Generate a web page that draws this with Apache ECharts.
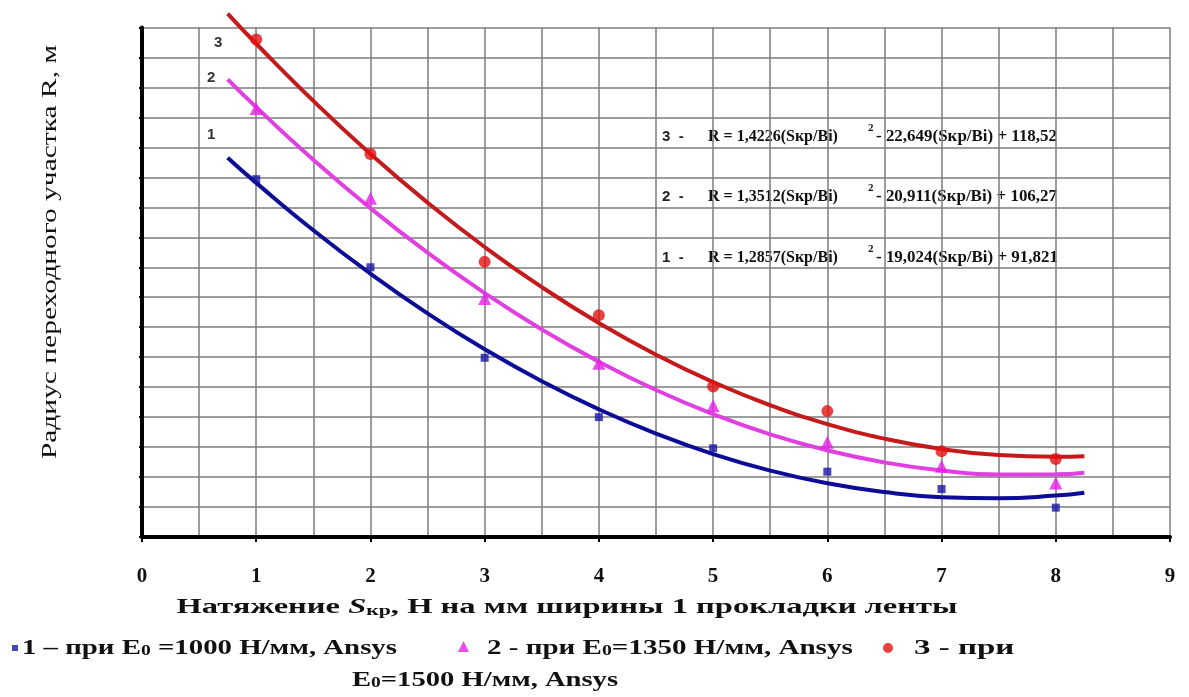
<!DOCTYPE html>
<html>
<head>
<meta charset="utf-8">
<script src="https://cdn.jsdelivr.net/npm/echarts@6/dist/echarts.min.js"></script>
<style>html,body{margin:0;padding:0;background:#fff;}#c{width:1189px;height:697px;}</style>
</head>
<body>
<div id="c"></div>
<script>
// Measured points (Ansys)
const pointX = [1, 2, 3, 4, 5, 6, 7, 8];
const ansys1 = [74.7, 60.0, 44.9, 35.0, 29.8, 25.9, 23.0, 19.9];
const ansys2 = [86.5, 71.5, 54.8, 44.0, 36.9, 30.8, 26.8, 24.0];
const ansys3 = [98.0, 78.9, 60.9, 52.0, 40.1, 36.0, 29.3, 28.0];
// Trend curves
const trendX = [0.75, 1, 1.5, 2, 2.5, 3, 3.5, 4, 4.5, 5, 5.5, 6, 6.5, 7, 7.5, 8, 8.25];
const trend1 = [78.28, 74.08, 66.18, 58.92, 52.30, 46.32, 40.99, 36.30, 32.25, 28.84, 26.08, 23.96, 22.49, 21.65, 21.46, 21.91, 22.38];
const trend2 = [91.35, 86.71, 77.94, 69.85, 62.44, 55.70, 49.63, 44.25, 39.53, 35.50, 32.13, 29.45, 27.44, 26.10, 25.44, 25.46, 25.72];
const trend3 = [102.33, 97.29, 87.75, 78.91, 70.79, 63.38, 56.68, 50.69, 45.41, 40.84, 36.98, 33.84, 31.41, 29.68, 28.67, 28.38, 28.49];
const xTickLabels = ['0','1','2','3','4','5','6','7','8','9'];
const seriesNames = ['1 – при E0 =1000 Н/мм, Ansys', '2 - при E0=1350 Н/мм, Ansys', '3 - при E0=1500 Н/мм, Ansys'];
const legendTexts = [
  ['1 – при E', ' =1000 Н/мм, Ansys'],
  ['2 - при E', '=1350 Н/мм, Ansys'],
  ['3 - при', ''],
  ['E', '=1500 Н/мм, Ansys']
];
const curveLabels = ['1', '2', '3'];
const equations = [
  ['3', 'R = 1,4226(Sкр/Bi)', '- 22,649(Sкр/Bi) + 118,52'],
  ['2', 'R = 1,3512(Sкр/Bi)', '- 20,911(Sкр/Bi) + 106,27'],
  ['1', 'R = 1,2857(Sкр/Bi)', '- 19,024(Sкр/Bi) + 91,821']
];
const yTitle = 'Радиус переходного участка R, м';
const xTitle = ['Натяжение ', 'S', 'кр', ', Н на мм ширины 1 прокладки ленты'];

const SERIF = '"Liberation Serif", "Times New Roman", serif';
const SANS = '"Liberation Sans", Arial, sans-serif';
const pair = (xs, ys) => xs.map((x, i) => [x, ys[i]]);

const chart = echarts.init(document.getElementById('c'));
const gridLine = { show: true, lineStyle: { color: '#7c7c7c', width: 1.5 } };

function mkLegend(idx, left, top, icon, size) {
  return {
    data: [{ name: seriesNames[idx], icon: icon }],
    left: left, top: top, itemWidth: size, itemHeight: size, itemGap: 0,
    padding: 0, selectedMode: false,
    formatter: () => '',
    textStyle: { fontSize: 1, padding: 0 }
  };
}
const richLeg = {
  t: { fontFamily: SERIF, fontWeight: 'bold', fontSize: 22, fill: '#111' },
  s: { fontFamily: SERIF, fontWeight: 'bold', fontSize: 15, fill: '#111', verticalAlign: 'bottom' }
};
function legText(idx, x, y, sx) {
  const t = legendTexts[idx];
  return {
    type: 'text', x: x, y: y, scaleX: sx, silent: true,
    style: {
      text: t[1] ? '{t|' + t[0] + '}{s|0}{t|' + t[1] + '}' : '{t|' + t[0] + '}',
      rich: richLeg, textAlign: 'left', textVerticalAlign: 'middle'
    }
  };
}

const eqGraphics = [];
const eqRows = [137, 197, 258];
equations.forEach((e, i) => {
  const y = eqRows[i];
  eqGraphics.push({ type: 'text', x: 662, y: y, style: { text: e[0] + '  -', font: 'bold 15px ' + SANS, fill: '#222', textVerticalAlign: 'middle' } });
  eqGraphics.push({ type: 'text', x: 708, y: y, style: { text: e[1], font: 'bold 16px ' + SERIF, fill: '#111', textVerticalAlign: 'middle' } });
  eqGraphics.push({ type: 'text', x: 868, y: y - 9, style: { text: '2', font: 'bold 11px ' + SERIF, fill: '#111', textVerticalAlign: 'middle' } });
  eqGraphics.push({ type: 'text', x: 876, y: y, scaleX: 1.06, style: { text: e[2], font: 'bold 16px ' + SERIF, fill: '#111', textVerticalAlign: 'middle' } });
});
const labelPos = [[207, 135], [207, 78], [214, 43]];
const curveLabelGraphics = curveLabels.map((t, i) => ({
  type: 'text', x: labelPos[i][0], y: labelPos[i][1],
  style: { text: t, font: 'bold 15px ' + SANS, fill: '#333', textVerticalAlign: 'middle' }
}));

chart.setOption({
  animation: false,
  backgroundColor: '#fff',
  grid: { left: 142, right: 19, top: 27.5, bottom: 160, containLabel: false },
  xAxis: {
    type: 'value', min: 0, max: 9, interval: 1,
    axisLine: { show: true, onZero: false, lineStyle: { color: '#000', width: 4 } },
    axisTick: { show: true, length: 5, lineStyle: { color: '#000', width: 2 } },
    axisLabel: {
      margin: 29, fontFamily: SERIF, fontWeight: 'bold', fontSize: 21, color: '#111',
      formatter: (v) => xTickLabels[Math.round(v)]
    },
    splitLine: gridLine,
    minorTick: { show: false, splitNumber: 2 },
    minorSplitLine: { show: true, lineStyle: { color: '#7c7c7c', width: 1.5 } }
  },
  yAxis: {
    type: 'value', min: 15, max: 100, interval: 5,
    axisLine: { show: true, onZero: false, lineStyle: { color: '#000', width: 4 } },
    axisTick: { show: true, length: 3, lineStyle: { color: '#000', width: 2 } },
    axisLabel: { show: false },
    splitLine: gridLine
  },
  legend: [
    mkLegend(0, 12, 645, 'rect', 6),
    mkLegend(1, 458, 641, 'triangle', 11),
    mkLegend(2, 883, 643, 'circle', 10)
  ],
  graphic: [
    { type: 'text', x: 50, y: 252, rotation: Math.PI / 2, scaleX: 1.34, silent: true,
      style: { text: yTitle, font: '22px ' + SERIF, fill: '#111', textAlign: 'center', textVerticalAlign: 'middle' } },
    { type: 'text', x: 567, y: 608, scaleX: 1.55, silent: true,
      style: {
        rich: {
          a: { fontFamily: SERIF, fontWeight: 'bold', fontSize: 21, fill: '#111' },
          i: { fontFamily: SERIF, fontWeight: 'bold', fontStyle: 'italic', fontSize: 21, fill: '#111' },
          s: { fontFamily: SERIF, fontWeight: 'bold', fontSize: 14, fill: '#111', verticalAlign: 'bottom' }
        },
        text: '{a|' + xTitle[0] + '}{i|' + xTitle[1] + '}{s|' + xTitle[2] + '}{a|' + xTitle[3] + '}',
        textAlign: 'center', textVerticalAlign: 'middle'
      } },
    legText(0, 22, 648, 1.31),
    legText(1, 487, 648, 1.32),
    legText(2, 914, 648, 1.5),
    legText(3, 352, 680, 1.3)
  ].concat(eqGraphics, curveLabelGraphics),
  series: [
    { name: 'trend1', type: 'line', data: pair(trendX, trend1), smooth: true, showSymbol: false, clip: false,
      lineStyle: { color: '#0c0c96', width: 4 }, silent: true, z: 3 },
    { name: 'trend2', type: 'line', data: pair(trendX, trend2), smooth: true, showSymbol: false, clip: false,
      lineStyle: { color: '#e040e0', width: 4 }, silent: true, z: 3 },
    { name: 'trend3', type: 'line', data: pair(trendX, trend3), smooth: true, showSymbol: false, clip: false,
      lineStyle: { color: '#c41a1c', width: 4 }, silent: true, z: 3 },
    { name: seriesNames[0], type: 'scatter', data: pair(pointX, ansys1), symbol: 'rect', symbolSize: 8,
      itemStyle: { color: '#1818a6' }, z: 4 },
    { name: seriesNames[1], type: 'scatter', data: pair(pointX, ansys2), symbol: 'triangle', symbolSize: 13,
      itemStyle: { color: '#e81ee8' }, z: 4 },
    { name: seriesNames[2], type: 'scatter', data: pair(pointX, ansys3), symbol: 'circle', symbolSize: 12,
      itemStyle: { color: '#e31212' }, z: 4 }
  ]
});
</script>
</body>
</html>
